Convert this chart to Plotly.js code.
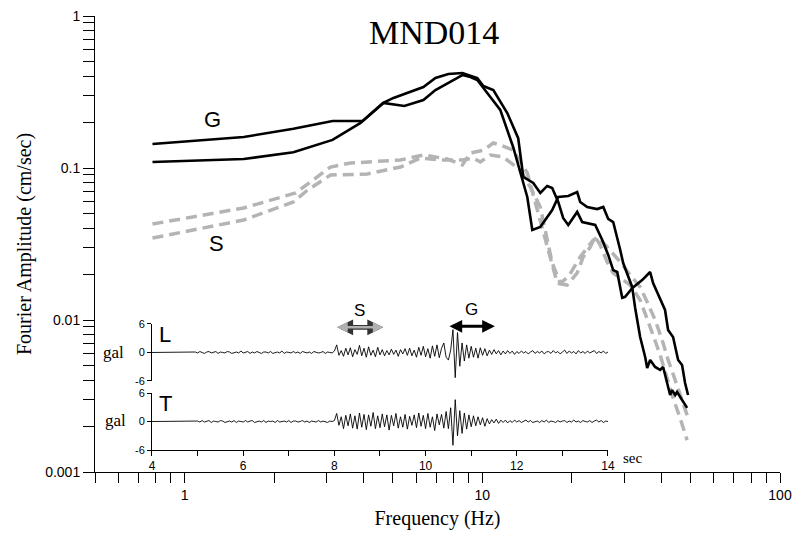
<!DOCTYPE html>
<html>
<head>
<meta charset="utf-8">
<script src="https://cdn.plot.ly/plotly-3.0.1.min.js"></script>
<style>html,body{margin:0;padding:0;background:#fff}#chart{width:794px;height:533px}</style>
</head>
<body>
<div id="chart"></div>
<script>
// ---------- Fourier spectra (Hz, cm/sec) ----------
const freqG1 = [0.78,1.58,2.32,3.14,3.96,4.65,5.03,6.34,6.96,7.69,8.57,9.62,10.08,10.89,12.13,13.20,13.73,14.83,15.66,16.52,17.17,17.99,18.69,19.44,20.83,21.66,23.95,25.29,26.48,27.52,28.39,29.51,30.19,31.87,34.43,36.63,37.47,38.66,41.10,42.08,43.73,45.48,46.88,47.99,49.11];
const ampG1  = [0.144,0.160,0.181,0.204,0.204,0.268,0.289,0.341,0.391,0.415,0.422,0.391,0.346,0.326,0.230,0.157,0.0873,0.0797,0.0685,0.0762,0.0739,0.0598,0.0469,0.0422,0.0514,0.0441,0.0422,0.0336,0.0268,0.0213,0.0207,0.0140,0.0142,0.0162,0.0183,0.0207,0.0175,0.0151,0.01164,0.0086,0.00773,0.00546,0.00506,0.00385,0.00321];

const freqG2 = [0.78,1.58,2.32,3.14,3.90,4.65,5.47,6.34,6.96,8.57,9.12,9.62,10.64,11.49,12.70,14.16,14.72,15.66,17.17,17.99,19.44,20.83,21.32,22.51,24.31,25.49,26.48,27.52,29.06,29.73,31.87,32.62,33.90,35.24,35.79,36.63,38.07,39.56,40.50,41.75,42.75,43.41,44.45,45.10,46.15,48.75];
const ampG2  = [0.1095,0.1146,0.127,0.153,0.198,0.268,0.256,0.280,0.326,0.409,0.397,0.379,0.293,0.241,0.137,0.0645,0.0391,0.0409,0.0529,0.0645,0.0655,0.0695,0.0598,0.0554,0.0537,0.0554,0.0462,0.0441,0.0289,0.0237,0.0165,0.0120,0.00773,0.00571,0.00483,0.00546,0.00491,0.00469,0.00491,0.00385,0.00321,0.00346,0.00321,0.00336,0.00311,0.00264];

const freqS1 = [0.78,1.58,2.36,2.65,3.09,3.61,5.31,6.34,7.63,8.57,9.12,10.08,10.89,11.49,12.70,14.16,15.06,16.02,16.91,17.85,19.28,20.83,21.83,23.04,23.95,24.89,26.27,27.52,29.06,31.38,33.90,35.79,37.47,39.56,41.75,43.73,46.15,48.75];
const ampS1  = [0.0428,0.0546,0.0685,0.0809,0.1015,0.1078,0.1129,0.1218,0.1146,0.1047,0.1255,0.131,0.146,0.1417,0.131,0.0927,0.0588,0.0391,0.0260,0.0175,0.0170,0.0204,0.0260,0.0302,0.0352,0.0311,0.0241,0.0204,0.0189,0.0170,0.01354,0.0103,0.00796,0.00589,0.00415,0.00307,0.00227,0.00162];

const freqS2 = [0.78,1.58,2.32,2.59,3.09,4.11,5.31,6.19,7.23,8.57,9.33,9.85,10.64,11.76,13.41,14.49,15.66,16.27,17.17,18.27,19.44,21.32,23.58,24.50,26.88,29.06,31.38,33.90,35.79,38.07,40.18,42.08,44.45,46.88,49.11];
const ampS2  = [0.0346,0.0455,0.0598,0.0717,0.0899,0.0913,0.1015,0.1163,0.1129,0.1129,0.1163,0.1095,0.1218,0.1181,0.0970,0.0750,0.0554,0.0391,0.0237,0.0175,0.0192,0.0260,0.0336,0.0352,0.0289,0.0241,0.0198,0.0165,0.01314,0.0100,0.00739,0.00546,0.00403,0.00298,0.00227];

const xTickVals = [0.5,0.6,0.7,0.8,0.9,1,2,3,4,5,6,7,8,9,10,20,30,40,50,60,70,80,90,100];
const xTickText = ['','','','','','1','','','','','','','','','10','','','','','','','','','100'];
const yTickVals = [0.001,0.002,0.003,0.004,0.005,0.006,0.007,0.008,0.009,0.01,0.02,0.03,0.04,0.05,0.06,0.07,0.08,0.09,0.1,0.2,0.3,0.4,0.5,0.6,0.7,0.8,0.9,1];
const yTickText = ['0.001','','','','','','','','','0.01','','','','','','','','','0.1','','','','','','','','','1'];

// ---------- Acceleration records (gal), sampled from 4 s every 0.05 s ----------
const sampleStart = 4.0, sampleStep = 0.05;
const accelL = [
 0,0,0,0,0,0,0,0,0,0,0,0,0,0,0,0,0,0,0,
 0.1,-0.1,0.2,0,-0.2,0.1,0.2,-0.1,0,0.2,
 -0.2,0.1,0,-0.1,0.2,0.1,-0.2,0,0.1,-0.1,
 0.3,-0.1,0,0.2,-0.2,0.1,-0.1,0.2,0,-0.2,
 0.1,0.1,-0.1,0.2,-0.2,0,0.1,-0.1,0.3,-0.2,
 0.1,0,-0.1,0.2,-0.1,0.1,-0.2,0.2,0,-0.1,
 0.1,-0.2,0.2,0.1,-0.1,0,0.2,-0.2,0.1,0,
 -0.1,
 0.3,1.6,-0.6,0.4,-0.8,0.9,-0.5,1.0,-0.9,0.6,
 -0.4,1.5,-0.7,0.9,-1.0,1.2,-0.6,0.5,-0.9,1.1,
 -0.5,0.6,-0.7,0.4,-0.5,0.7,-0.4,0.5,-0.8,0.6,
 -0.3,0.8,-0.6,0.9,-0.7,0.5,-1.0,1.1,-0.6,1.3,
 -0.9,0.8,-1.2,1.4,-0.8,1.6,-1.1,0.9,2.0,-1.0,
 -1.6,0.5,
 4.8,-5.3,4.2,-2.9,2.0,-1.8,1.6,-1.2,1.3,
 -1.0,0.9,-1.2,1.0,-0.6,0.8,-0.7,0.5,-0.4,0.6,
 -0.3,0.4,-0.5,0.3,-0.3,0.4,-0.2,0.3,-0.4,0.2,
 -0.2,0.3,-0.1,0.2,-0.3,0.1,0.4,-0.2,0.2,-0.1,
 0.3,-0.3,0.1,0.2,-0.2,0.4,-0.1,0.2,-0.3,0.1,
 0.5,-0.2,0.3,-0.1,0.2,-0.3,0.4,-0.1,0.2,-0.2,
 0.3,-0.1,0.1,0.4,-0.2,0.2,-0.1,0.3,-0.2,0.1
];
const accelT = [
 0,0,0,0,0,0,0,0,0,0,0,0,0,0,0,0,0,0,0,
 0,0.1,-0.1,0.2,-0.1,0,0.2,-0.2,0.1,0,
 -0.1,0.2,0.1,-0.2,0,0.1,-0.1,0.2,-0.2,0.1,
 0,-0.1,0.2,-0.1,0.1,0.2,-0.2,0,0.1,-0.1,
 0.2,-0.2,0.1,0,0.1,-0.2,0.2,-0.1,0,0.1,
 -0.1,0.2,-0.2,0.1,0.1,-0.1,0,0.2,-0.1,0.1,
 -0.2,0.1,0,-0.1,0.2,-0.1,0.1,0,-0.2,0.1,
 0,
 0.2,1.7,-0.8,1.0,-1.5,1.3,-0.9,1.6,-1.4,1.2,
 -1.6,1.8,-1.2,1.5,-1.7,1.4,-1.0,1.9,-1.5,1.2,
 -1.3,1.6,-1.1,1.4,-1.8,1.3,-0.9,1.7,-1.4,1.0,
 -1.2,1.5,-1.6,1.1,-0.8,1.4,-1.3,1.8,-1.0,1.3,
 -1.5,1.7,-1.2,1.0,-1.9,1.6,-0.7,1.5,-1.4,2.1,
 -1.5,2.9,
 -5.0,4.6,-3.0,2.3,-2.5,1.8,-1.6,1.4,-1.1,
 1.2,-0.9,1.0,-0.7,0.8,-1.0,0.6,-0.5,0.4,-0.3,
 0.5,-0.4,0.3,-0.2,0.3,-0.3,0.2,-0.2,0.3,-0.1,
 0.2,-0.2,0.1,0.3,-0.1,0.2,-0.2,0,0.1,-0.2,
 0.2,-0.1,0.3,-0.2,0.1,0,-0.2,0.2,-0.1,0.1,
 0.2,-0.2,0.1,-0.1,0.3,-0.1,0.1,-0.2,0.2,0,
 -0.1,0.2,-0.2,0.1,0.3,-0.1,0.2,-0.2,0.1,0
];
const timeTickVals = [4,5,6,7,8,9,10,11,12,13,14];
const timeTickText = ['4','','6','','8','','10','','12','','14'];
const galTickVals = [-6, 0, 6];
const galTickText = ['-6', '0', '6'];
const sWindow = [8.03, 9.07];   // S-wave window (sec)
const gWindow = [10.49, 11.52]; // G window (sec)

const timeL = accelL.map((_, i) => sampleStart + i * sampleStep);
const timeT = accelT.map((_, i) => sampleStart + i * sampleStep);

const SANS = 'Liberation Sans, Arial, sans-serif';
const SERIF = 'Liberation Serif, Times New Roman, serif';

const traces = [
  {x: freqS2, y: ampS2, type: 'scatter', mode: 'lines', line: {color: '#b4b4b4', width: 3.5, dash: '11px,6px'}, xaxis: 'x', yaxis: 'y', hoverinfo: 'skip'},
  {x: freqS1, y: ampS1, type: 'scatter', mode: 'lines', line: {color: '#b4b4b4', width: 3.5, dash: '11px,6px'}, xaxis: 'x', yaxis: 'y', hoverinfo: 'skip'},
  {x: freqG2, y: ampG2, type: 'scatter', mode: 'lines', line: {color: '#000', width: 2.6}, xaxis: 'x', yaxis: 'y', hoverinfo: 'skip'},
  {x: freqG1, y: ampG1, type: 'scatter', mode: 'lines', line: {color: '#000', width: 2.6}, xaxis: 'x', yaxis: 'y', hoverinfo: 'skip'},
  {x: timeL, y: accelL, type: 'scatter', mode: 'lines', line: {color: '#000', width: 0.9}, xaxis: 'x2', yaxis: 'y2', hoverinfo: 'skip'},
  {x: timeT, y: accelT, type: 'scatter', mode: 'lines', line: {color: '#000', width: 0.9}, xaxis: 'x2', yaxis: 'y3', hoverinfo: 'skip'}
];

const galAxis = (domain) => ({
  range: [-6, 6], domain: domain, anchor: 'x2',
  tickmode: 'array', tickvals: galTickVals, ticktext: galTickText,
  ticks: 'outside', ticklen: 4, tickwidth: 1, tickcolor: '#000',
  showline: true, linecolor: '#000', linewidth: 1, showgrid: false, zeroline: false,
  tickfont: {family: SANS, size: 11, color: '#000'}
});

const layout = {
  width: 794, height: 533,
  margin: {l: 95, r: 14, t: 16, b: 61, pad: 0},
  paper_bgcolor: '#fff', plot_bgcolor: 'rgba(0,0,0,0)',
  showlegend: false,
  font: {family: SANS, color: '#000'},
  xaxis: {
    type: 'log', range: [Math.log10(0.5), 2], domain: [0, 1], anchor: 'y',
    tickmode: 'array', tickvals: xTickVals, ticktext: xTickText,
    ticks: 'outside', ticklen: 10, tickwidth: 1, tickcolor: '#000',
    showline: true, linecolor: '#000', linewidth: 1, showgrid: false, zeroline: false,
    tickfont: {family: SANS, size: 14, color: '#000'},
    title: {text: 'Frequency (Hz)', font: {family: SERIF, size: 20, color: '#000'}, standoff: 9}
  },
  yaxis: {
    type: 'log', range: [-3, 0], domain: [0, 1], anchor: 'x',
    tickmode: 'array', tickvals: yTickVals, ticktext: yTickText,
    ticks: 'outside', ticklen: 11, tickwidth: 1, tickcolor: '#000',
    showline: true, linecolor: '#000', linewidth: 1, showgrid: false, zeroline: false,
    tickfont: {family: SANS, size: 14, color: '#000'},
    title: {text: 'Fourier Amplitude (cm/sec)', font: {family: SERIF, size: 20, color: '#000'}, standoff: 8}
  },
  xaxis2: {
    range: [4, 14], domain: [0.0832, 0.7489], anchor: 'y3',
    tickmode: 'array', tickvals: timeTickVals, ticktext: timeTickText,
    ticks: 'outside', ticklen: 5, tickwidth: 1, tickcolor: '#000',
    showline: true, linecolor: '#000', linewidth: 1, showgrid: false, zeroline: false,
    tickfont: {family: SANS, size: 12, color: '#000'}
  },
  yaxis2: galAxis([0.1996, 0.3246]),
  yaxis3: galAxis([0.0482, 0.1732]),
  annotations: [
    {text: 'MND014', xref: 'paper', yref: 'paper', x: 0.495, y: 0.963, xanchor: 'center', yanchor: 'middle', showarrow: false, font: {family: SERIF, size: 34, color: '#000'}},
    {text: 'G', xref: 'paper', yref: 'paper', x: 0.172, y: 0.774, xanchor: 'center', yanchor: 'middle', showarrow: false, font: {family: SANS, size: 22, color: '#000'}},
    {text: 'S', xref: 'paper', yref: 'paper', x: 0.178, y: 0.502, xanchor: 'center', yanchor: 'middle', showarrow: false, font: {family: SANS, size: 22, color: '#000'}},
    {text: 'L', xref: 'paper', yref: 'paper', x: 0.102, y: 0.301, xanchor: 'center', yanchor: 'middle', showarrow: false, font: {family: SANS, size: 22, color: '#000'}},
    {text: 'T', xref: 'paper', yref: 'paper', x: 0.103, y: 0.151, xanchor: 'center', yanchor: 'middle', showarrow: false, font: {family: SANS, size: 22, color: '#000'}},
    {text: 'gal', xref: 'paper', yref: 'paper', x: 0.027, y: 0.261, xanchor: 'center', yanchor: 'middle', showarrow: false, font: {family: SERIF, size: 17, color: '#000'}},
    {text: 'gal', xref: 'paper', yref: 'paper', x: 0.030, y: 0.112, xanchor: 'center', yanchor: 'middle', showarrow: false, font: {family: SERIF, size: 17, color: '#000'}},
    {text: 'sec', xref: 'paper', yref: 'paper', x: 0.784, y: 0.030, xanchor: 'center', yanchor: 'middle', showarrow: false, font: {family: SERIF, size: 15, color: '#000'}},
    {text: 'S', xref: 'x2', yref: 'paper', x: (sWindow[0] + sWindow[1]) / 2, y: 0.355, xanchor: 'center', yanchor: 'middle', showarrow: false, font: {family: SANS, size: 17, color: '#000'}},
    {text: 'G', xref: 'x2', yref: 'paper', x: (gWindow[0] + gWindow[1]) / 2, y: 0.357, xanchor: 'center', yanchor: 'middle', showarrow: false, font: {family: SANS, size: 17, color: '#000'}},
    // S window arrow: dark outline then grey fill
    {text: '', xref: 'x2', yref: 'y2', axref: 'x2', ayref: 'y2', x: sWindow[1], y: 5.3, ax: sWindow[0], ay: 5.3, showarrow: true, arrowside: 'end+start', arrowhead: 2, arrowsize: 0.66, arrowwidth: 4.8, arrowcolor: '#333'},
    {text: '', xref: 'x2', yref: 'y2', axref: 'x2', ayref: 'y2', x: sWindow[1], y: 5.3, ax: sWindow[0], ay: 5.3, showarrow: true, arrowside: 'end+start', arrowhead: 2, arrowsize: 0.8, arrowwidth: 2.6, arrowcolor: '#b0b0b0'},
    // G window arrow
    {text: '', xref: 'x2', yref: 'y2', axref: 'x2', ayref: 'y2', x: gWindow[1], y: 5.5, ax: gWindow[0], ay: 5.5, showarrow: true, arrowside: 'end+start', arrowhead: 2, arrowsize: 0.85, arrowwidth: 3, arrowcolor: '#000'}
  ]
};

Plotly.newPlot('chart', traces, layout, {displayModeBar: false, staticPlot: true});
</script>
</body>
</html>
